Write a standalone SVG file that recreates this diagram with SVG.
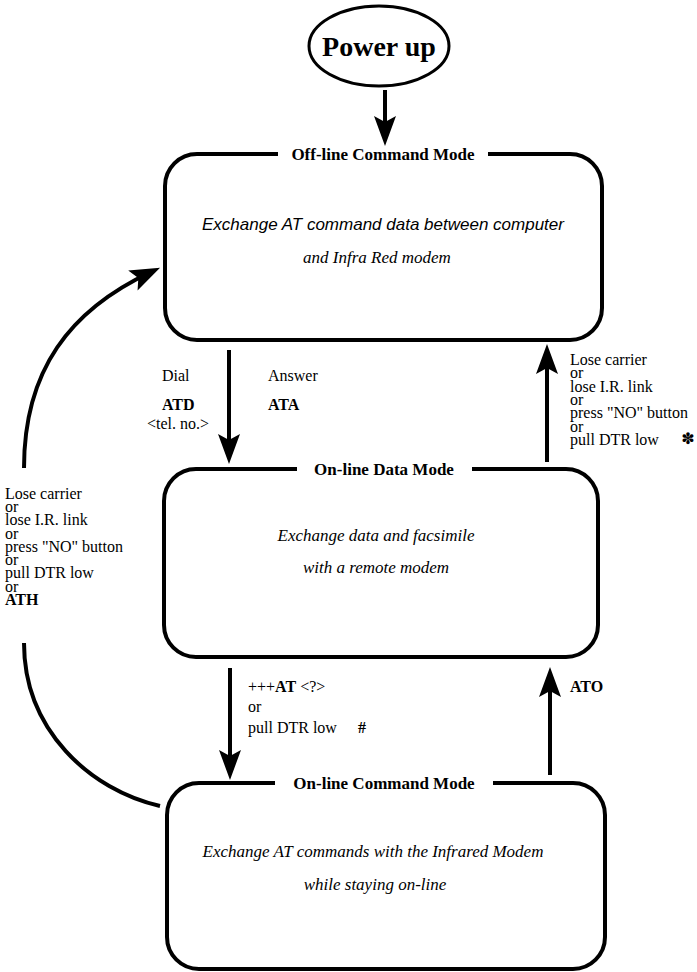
<svg xmlns="http://www.w3.org/2000/svg" width="697" height="972" viewBox="0 0 697 972">
<style>
.box{fill:none;stroke:#000;stroke-width:4}
.conn{fill:none;stroke:#000;stroke-width:4}
.serif{font-family:"Liberation Serif","Times New Roman",serif;fill:#000}
.title{font-family:"Liberation Serif","Times New Roman",serif;font-weight:bold;font-size:17px;text-anchor:middle}
.it{font-family:"Liberation Serif","Times New Roman",serif;font-style:italic;font-size:17px;text-anchor:middle}
.itsans{font-family:"Liberation Sans",Arial,sans-serif;font-style:italic;font-size:17px;text-anchor:middle}
.lbl{font-family:"Liberation Serif","Times New Roman",serif;font-size:16px}
.b{font-weight:bold}
</style>
<defs>
<marker id="ah" markerUnits="userSpaceOnUse" viewBox="-31 -12 32 24" markerWidth="32" markerHeight="24" refX="-10" refY="0" orient="auto">
<path d="M0,0 L-30,-11 L-24,0 L-30,11 Z" fill="#000"/>
</marker>
</defs>
<rect width="697" height="972" fill="#fff"/>

<g id="power-up">
<ellipse cx="379" cy="46" rx="70" ry="40" fill="#fff" stroke="#000" stroke-width="3"/>
<text x="379" y="56" class="serif b" font-size="28" text-anchor="middle">Power up</text>
</g>

<g id="offline-command-mode">
<path class="box" d="M488,154 H570 A32,32 0 0 1 602,186 V308 A32,32 0 0 1 570,340 H197 A32,32 0 0 1 165,308 V186 A32,32 0 0 1 197,154 H278"/>
<text x="383" y="160" class="title">Off-line Command Mode</text>
<text x="383" y="230" class="itsans">Exchange AT command data between computer</text>
<text x="377" y="263" class="it">and Infra Red modem</text>
</g>

<g id="online-data-mode">
<path class="box" d="M472,469 H566 A32,32 0 0 1 598,501 V625 A32,32 0 0 1 566,657 H196 A32,32 0 0 1 164,625 V501 A32,32 0 0 1 196,469 H297"/>
<text x="384" y="475" class="title">On-line Data Mode</text>
<text x="376" y="541" class="it">Exchange data and facsimile</text>
<text x="376" y="573" class="it">with a remote modem</text>
</g>

<g id="online-command-mode">
<path class="box" d="M493,783 H573 A32,32 0 0 1 605,815 V937 A32,32 0 0 1 573,969 H199 A32,32 0 0 1 167,937 V815 A32,32 0 0 1 199,783 H275"/>
<text x="384" y="789" class="title">On-line Command Mode</text>
<text x="373" y="857" class="it">Exchange AT commands with the Infrared Modem</text>
<text x="375" y="890" class="it">while staying on-line</text>
</g>

<g id="connectors">
<line class="conn" x1="385" y1="90" x2="385" y2="136" marker-end="url(#ah)"/>
<line class="conn" x1="229" y1="350" x2="229" y2="454" marker-end="url(#ah)"/>
<line class="conn" x1="547" y1="462" x2="547" y2="354" marker-end="url(#ah)"/>
<path class="conn" d="M24,468 C24,370 70,310 151,272" marker-end="url(#ah)"/>
<path class="conn" d="M24,643 C24,730 90,790 160,806"/>
<line class="conn" x1="230" y1="668" x2="230" y2="770" marker-end="url(#ah)"/>
<line class="conn" x1="550" y1="775" x2="550" y2="677" marker-end="url(#ah)"/>
</g>

<g id="labels">
<text x="162" y="381" class="lbl">Dial</text>
<text x="162" y="410" class="lbl b">ATD</text>
<text x="147" y="429" class="lbl">&lt;tel. no.&gt;</text>
<text x="268" y="381" class="lbl">Answer</text>
<text x="268" y="410" class="lbl b">ATA</text>

<text class="lbl" x="570">
<tspan x="570" y="365">Lose carrier</tspan>
<tspan x="570" y="378">or</tspan>
<tspan x="570" y="392">lose I.R. link</tspan>
<tspan x="570" y="405">or</tspan>
<tspan x="570" y="418">press "NO" button</tspan>
<tspan x="570" y="432">or</tspan>
<tspan x="570" y="445">pull DTR low</tspan>
</text>
<text x="688" y="444" font-family="DejaVu Sans,sans-serif" font-size="16" font-weight="bold" text-anchor="middle">✽</text>

<text class="lbl" x="5">
<tspan x="5" y="499">Lose carrier</tspan>
<tspan x="5" y="512">or</tspan>
<tspan x="5" y="525">lose I.R. link</tspan>
<tspan x="5" y="539">or</tspan>
<tspan x="5" y="552">press "NO" button</tspan>
<tspan x="5" y="565">or</tspan>
<tspan x="5" y="578">pull DTR low</tspan>
<tspan x="5" y="592">or</tspan>
<tspan x="5" y="605" font-weight="bold">ATH</tspan>
</text>

<text x="248" y="692" class="lbl">+++<tspan font-weight="bold">AT</tspan> &lt;?&gt;</text>
<text x="248" y="712" class="lbl">or</text>
<text x="248" y="733" class="lbl">pull DTR low</text>
<text x="358" y="733" class="lbl b">#</text>
<text x="570" y="692" class="lbl b">ATO</text>
</g>
</svg>
